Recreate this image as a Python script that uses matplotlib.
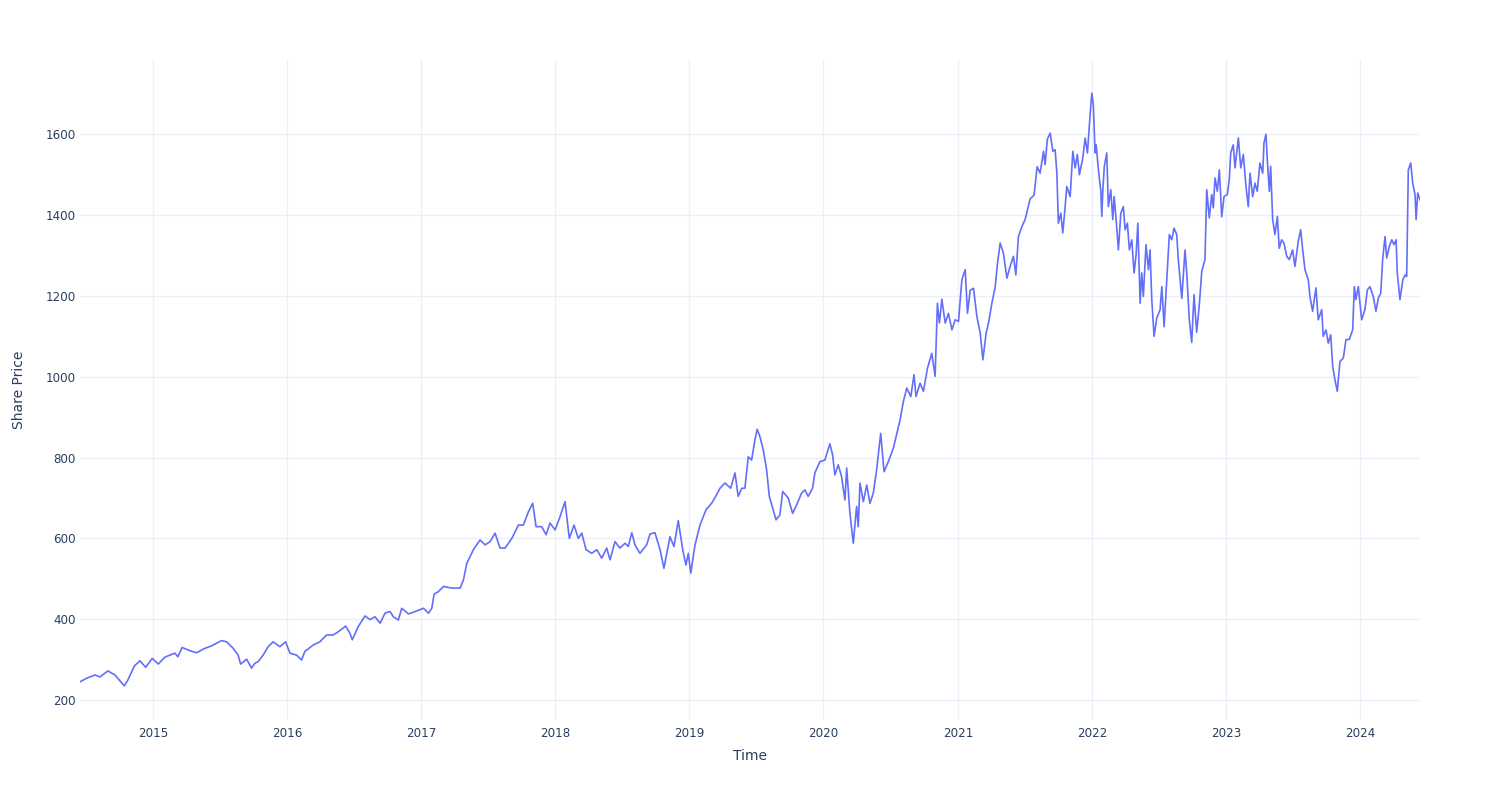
import numpy as np
import pandas as pd
import matplotlib
matplotlib.use("Agg")
import matplotlib.pyplot as plt
import matplotlib.dates as mdates

# dates as decimal years
years = [
    2014.456, 2014.506, 2014.568, 2014.605, 2014.664, 2014.717, 2014.786, 2014.814, 2014.861, 2014.903,
    2014.946, 2014.995, 2015.040, 2015.089, 2015.164, 2015.186, 2015.218, 2015.276, 2015.326, 2015.388,
    2015.438, 2015.512, 2015.550, 2015.599, 2015.636, 2015.654, 2015.699, 2015.736, 2015.761, 2015.785,
    2015.822, 2015.860, 2015.897, 2015.947, 2015.990, 2016.022, 2016.072, 2016.109, 2016.133, 2016.195,
    2016.245, 2016.295, 2016.344, 2016.382, 2016.437, 2016.469, 2016.486, 2016.531, 2016.581, 2016.618,
    2016.655, 2016.693, 2016.730, 2016.767, 2016.792, 2016.829, 2016.854, 2016.904, 2016.954, 2017.016,
    2017.053, 2017.078, 2017.095, 2017.127, 2017.165, 2017.227, 2017.289, 2017.314, 2017.339, 2017.388,
    2017.438, 2017.476, 2017.513, 2017.550, 2017.587, 2017.625, 2017.675, 2017.724, 2017.761, 2017.799,
    2017.831, 2017.856, 2017.898, 2017.931, 2017.960, 2017.998, 2018.035, 2018.072, 2018.104, 2018.139,
    2018.171, 2018.197, 2018.229, 2018.271, 2018.309, 2018.346, 2018.383, 2018.408, 2018.445, 2018.482,
    2018.520, 2018.544, 2018.570, 2018.594, 2018.631, 2018.681, 2018.706, 2018.743, 2018.781, 2018.810,
    2018.855, 2018.885, 2018.917, 2018.950, 2018.974, 2018.992, 2019.010, 2019.042, 2019.079, 2019.124,
    2019.166, 2019.203, 2019.228, 2019.265, 2019.308, 2019.340, 2019.364, 2019.390, 2019.414, 2019.439,
    2019.464, 2019.489, 2019.506, 2019.526, 2019.551, 2019.576, 2019.596, 2019.625, 2019.646, 2019.675,
    2019.696, 2019.737, 2019.770, 2019.800, 2019.837, 2019.862, 2019.886, 2019.919, 2019.936, 2019.974,
    2020.011, 2020.048, 2020.068, 2020.085, 2020.110, 2020.135, 2020.160, 2020.173, 2020.197, 2020.222,
    2020.247, 2020.259, 2020.272, 2020.297, 2020.322, 2020.346, 2020.371, 2020.396, 2020.426, 2020.451,
    2020.483, 2020.520, 2020.550, 2020.570, 2020.595, 2020.620, 2020.650, 2020.674, 2020.689, 2020.719,
    2020.744, 2020.774, 2020.806, 2020.831, 2020.848, 2020.863, 2020.881, 2020.906, 2020.930, 2020.956,
    2020.980, 2021.005, 2021.030, 2021.055, 2021.072, 2021.092, 2021.117, 2021.142, 2021.167, 2021.187,
    2021.211, 2021.229, 2021.254, 2021.279, 2021.296, 2021.316, 2021.340, 2021.366, 2021.390, 2021.415,
    2021.433, 2021.452, 2021.478, 2021.502, 2021.539, 2021.569, 2021.592, 2021.614, 2021.639, 2021.651,
    2021.668, 2021.689, 2021.709, 2021.726, 2021.739, 2021.750, 2021.768, 2021.783, 2021.800, 2021.813,
    2021.838, 2021.858, 2021.875, 2021.892, 2021.907, 2021.932, 2021.950, 2021.967, 2021.987, 2022.000,
    2022.011, 2022.024, 2022.032, 2022.049, 2022.067, 2022.074, 2022.082, 2022.093, 2022.111, 2022.123,
    2022.141, 2022.156, 2022.166, 2022.181, 2022.198, 2022.216, 2022.235, 2022.248, 2022.265, 2022.280,
    2022.298, 2022.315, 2022.330, 2022.343, 2022.360, 2022.372, 2022.384, 2022.404, 2022.422, 2022.434,
    2022.447, 2022.464, 2022.484, 2022.509, 2022.522, 2022.539, 2022.559, 2022.578, 2022.596, 2022.613,
    2022.633, 2022.645, 2022.671, 2022.695, 2022.708, 2022.727, 2022.745, 2022.762, 2022.782, 2022.802,
    2022.820, 2022.844, 2022.857, 2022.876, 2022.894, 2022.906, 2022.919, 2022.936, 2022.951, 2022.969,
    2022.986, 2023.011, 2023.026, 2023.036, 2023.055, 2023.068, 2023.093, 2023.111, 2023.130, 2023.150,
    2023.167, 2023.180, 2023.200, 2023.217, 2023.234, 2023.254, 2023.275, 2023.284, 2023.299, 2023.309,
    2023.324, 2023.334, 2023.349, 2023.366, 2023.384, 2023.398, 2023.416, 2023.433, 2023.454, 2023.473,
    2023.498, 2023.515, 2023.540, 2023.558, 2023.573, 2023.590, 2023.615, 2023.627, 2023.647, 2023.672,
    2023.689, 2023.715, 2023.726, 2023.747, 2023.764, 2023.782, 2023.797, 2023.814, 2023.831, 2023.851,
    2023.876, 2023.896, 2023.920, 2023.946, 2023.958, 2023.970, 2023.988, 2024.013, 2024.037, 2024.055,
    2024.075, 2024.099, 2024.119, 2024.137, 2024.155, 2024.169, 2024.187, 2024.199, 2024.219, 2024.237,
    2024.254, 2024.269, 2024.278, 2024.298, 2024.319, 2024.336, 2024.348, 2024.360, 2024.378, 2024.393,
    2024.410, 2024.418, 2024.430, 2024.447,
]

price = [
    245, 254, 262, 257, 272, 262, 235, 250, 284, 297,
    281, 303, 289, 306, 316, 307, 330, 322, 317, 328,
    334, 347, 344, 328, 311, 289, 301, 279, 291, 295,
    311, 332, 344, 332, 344, 316, 311, 299, 320, 336,
    344, 361, 361, 369, 383, 365, 349, 382, 408, 399,
    406, 390, 415, 419, 406, 398, 427, 413, 419, 427,
    415, 427, 462, 468, 481, 477, 477, 497, 538, 572,
    596, 584, 592, 613, 576, 576, 600, 633, 633, 666,
    687, 629, 629, 609, 638, 621, 654, 691, 600, 633,
    600, 613, 572, 563, 572, 551, 576, 547, 592, 576,
    588, 580, 614, 584, 563, 584, 611, 614, 572, 526,
    604, 580, 644, 572, 534, 563, 514, 584, 633, 671,
    687, 708, 724, 737, 724, 762, 704, 724, 724, 802,
    794, 844, 870, 852, 819, 770, 704, 671, 646, 658,
    716, 700, 662, 683, 712, 720, 704, 724, 762, 790,
    794, 834, 807, 757, 782, 753, 695, 774, 662, 588,
    679, 629, 737, 691, 732, 687, 712, 770, 860, 765,
    790, 823, 865, 893, 939, 972, 951, 1005, 951, 984,
    964, 1021, 1058, 1001, 1182, 1133, 1192, 1133, 1157, 1116,
    1141, 1137, 1240, 1265, 1157, 1214, 1219, 1149, 1108, 1042,
    1108, 1133, 1182, 1223, 1281, 1331, 1306, 1244, 1273, 1298,
    1252, 1347, 1372, 1389, 1440, 1450, 1520, 1504, 1558, 1525,
    1588, 1603, 1558, 1562, 1504, 1380, 1405, 1356, 1418, 1471,
    1446, 1558, 1517, 1550, 1500, 1541, 1591, 1554, 1649, 1702,
    1673, 1554, 1574, 1512, 1459, 1397, 1463, 1521, 1554, 1421,
    1463, 1389, 1446, 1389, 1314, 1405, 1421, 1364, 1380, 1314,
    1339, 1257, 1302, 1380, 1182, 1257, 1199, 1327, 1265, 1314,
    1191, 1100, 1145, 1166, 1223, 1124, 1240, 1352, 1339, 1368,
    1352, 1290, 1194, 1314, 1257, 1141, 1085, 1203, 1110, 1180,
    1261, 1290, 1463, 1393, 1451, 1418, 1492, 1459, 1512, 1396,
    1446, 1451, 1492, 1554, 1574, 1517, 1591, 1517, 1550, 1471,
    1421, 1504, 1446, 1479, 1459, 1529, 1504, 1579, 1600, 1537,
    1459, 1521, 1389, 1352, 1397, 1318, 1339, 1331, 1298, 1290,
    1314, 1273, 1335, 1364, 1314, 1265, 1240, 1199, 1162, 1220,
    1141, 1166, 1100, 1116, 1083, 1104, 1025, 992, 964, 1038,
    1046, 1092, 1092, 1116, 1223, 1191, 1223, 1141, 1166, 1215,
    1223, 1199, 1162, 1195, 1207, 1290, 1347, 1294, 1323, 1339,
    1327, 1339, 1257, 1191, 1240, 1252, 1248, 1512, 1529, 1479,
    1451, 1389, 1455, 1438,
]

year_ticks = list(range(2015, 2025))
price_ticks = [200, 400, 600, 800, 1000, 1200, 1400, 1600]


def to_date(y):
    start = pd.Timestamp(int(y), 1, 1)
    end = pd.Timestamp(int(y) + 1, 1, 1)
    return start + (end - start) * (y - int(y))


dates = [to_date(y) for y in years]

text_col = "#2a3f5f"
grid_col = "#ebf0f8"

fig = plt.figure(figsize=(15, 8), dpi=100)
ax = fig.add_axes([80 / 1500, 80 / 800, 1340 / 1500, 660 / 800])

ax.plot(dates, price, color="#636efa", lw=1.2)

ax.set_xlim(dates[0], dates[-1])
ax.set_ylim(150.5, 1784)
ax.set_yticks(price_ticks)
ax.set_xticks([pd.Timestamp(y, 1, 1) for y in year_ticks])
ax.xaxis.set_major_formatter(mdates.DateFormatter("%Y"))

ax.grid(True, color=grid_col, lw=1)
ax.set_axisbelow(True)
for s in ax.spines.values():
    s.set_visible(False)
ax.tick_params(length=0, labelsize=8.6, labelcolor=text_col)
ax.tick_params(axis="x", pad=5)
ax.tick_params(axis="y", pad=3)

fig.text(0.5, 1 - 756 / 800, "Time", ha="center", va="center", fontsize=10, color=text_col)
fig.text(19 / 1500, 1 - 390 / 800, "Share Price", ha="center", va="center",
         rotation=90, fontsize=10, color=text_col)

fig.savefig("out.png", dpi=100, facecolor="white")
